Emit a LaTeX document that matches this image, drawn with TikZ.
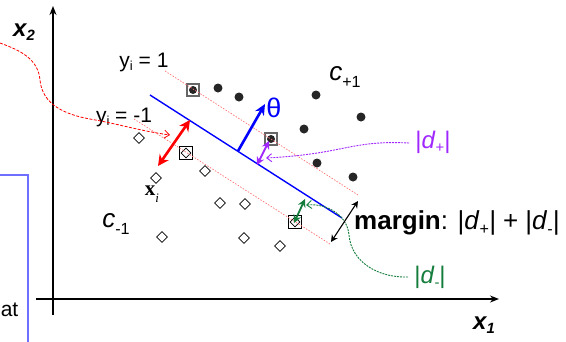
\documentclass[tikz,border=0pt]{standalone}
\usepackage{fontspec}
\setmainfont{Liberation Sans}
\newfontfamily\seriffont{Liberation Serif}
\usetikzlibrary{arrows.meta,shapes.geometric}
\definecolor{pblue}{RGB}{0,0,255}
\definecolor{boxblue}{RGB}{110,110,255}
\definecolor{ppurple}{RGB}{160,40,255}
\definecolor{pgreen}{RGB}{20,125,60}
\definecolor{pred}{RGB}{255,0,0}
\newcommand{\lsub}[1]{\raisebox{-0.35ex}{\scalebox{0.62}{#1}}}
\newcommand{\fsz}[1]{\fontsize{#1}{#1}\selectfont}
\begin{document}
\begin{tikzpicture}[x=1pt,y=-1pt,
  dot/.style={circle,fill=black!85,inner sep=0,minimum size=9pt},
  dia/.style={diamond,draw,fill=white,inner sep=0,minimum size=11pt,line width=0.8pt},
  svpos/.style={rectangle,draw=black!60,line width=1.6pt,fill=white,minimum size=12pt,inner sep=0},
  svneg/.style={rectangle,draw=black,line width=1pt,fill=white,minimum size=13pt,inner sep=0},
  axis/.style={line width=1.4pt,-{Stealth[length=9pt,width=7pt]}},
  marginline/.style={red!55,line width=0.7pt,dash pattern=on 1.5pt off 1.5pt},
  lbl/.style={inner sep=0,font=\fsz{21}},
  dbl/.style={{Stealth[length=#1,width=#1]}-{Stealth[length=#1,width=#1]}},
  barb/.style={-{Straight Barb[length=5pt,width=8pt]}}
]
\useasboundingbox (0,0) rectangle (566,341);

% left blue box fragment
\draw[boxblue,line width=1.4pt] (0,175) -- (28,175) -- (28,345);
\node[lbl,font=\fsz{21},anchor=base east] (at) at (18.5,316) {at};

% axes
\coordinate (yb) at (53,315); \coordinate (yt) at (53,6);
\coordinate (xl) at (36,299); \coordinate (xr) at (499,299);
\draw[axis] (yb) -- (yt);
\draw[axis] (xl) -- (xr);
\node[inner sep=0,font=\fsz{24}\bfseries\itshape] (x2) at (24,32) {x\lsub{2}};
\node[inner sep=0,font=\fsz{24}\bfseries\itshape] (x1) at (484,325) {x\lsub{1}};

% class +1 points
\foreach \p [count=\i] in {(218,88),(239,97),(316,95),(361,117),(304,129),(317,163),(353,177)}
  \node[dot] (p\i) at \p {};
% class -1 points
\foreach \p [count=\i] in {(139,138),(156,178),(162,237),(205,171),(220,203),(245,204),(244,238),(280,246)}
  \node[dia] (n\i) at \p {};
% support vectors
\node[svpos] (sp1) at (193,90) {}; \node[dot,minimum size=8pt] at (sp1) {};
\node[svpos] (sp2) at (271,139) {}; \node[dot,minimum size=8pt] at (sp2) {};
\node[svneg] (sn1) at (186,153) {}; \node[dia,minimum size=10pt] at (sn1) {};
\node[svneg] (sn2) at (295,222) {}; \node[dia,minimum size=10pt] at (sn2) {};

% margin lines and hyperplane
\coordinate (m1a) at (165,71); \coordinate (m1b) at (358,195);
\coordinate (m2a) at (134,119); \coordinate (m2b) at (330,244);
\coordinate (ha) at (150,95); \coordinate (hb) at (342,218);
\draw[marginline] (m1a) -- (m1b);
\draw[marginline] (m2a) -- (m2b);
\draw[pblue,line width=1.4pt] (ha) -- (hb);

% labels
\node[lbl] (ypos) at (144,62) {y\lsub{i} = 1};
\node[lbl] (yneg) at (124,117) {y\lsub{i} = -1};
\node[lbl,font=\fsz{26}] (cp) at (345,77) {\textit{c}\raisebox{-0.5ex}{\scalebox{0.62}{+1}}};
\node[lbl,font=\fsz{26}] (cn) at (116,224) {\textit{c}\raisebox{-0.5ex}{\scalebox{0.62}{-1}}};
\node[lbl,font=\fsz{21}] (xi) at (152,194) {{\seriffont\bfseries x}\raisebox{-0.6ex}{\scalebox{0.62}{\seriffont\itshape i}}};

% red curve and red double arrow
\coordinate (rc0) at (0,43); \coordinate (rc1) at (170,135);
\draw[pred,line width=0.8pt,dash pattern=on 3pt off 1.5pt,barb]
  (rc0) to[out=-20,in=95] (40,80) to[out=-85,in=170] (90,119) to[out=-10,in=172] (rc1);
\coordinate (ra) at (190,120); \coordinate (rb) at (158,166);
\draw[pred,line width=2.6pt,dbl=11pt] (ra) -- (rb);

% theta
\coordinate (ta) at (238,151); \coordinate (tb) at (265,104);
\draw[pblue,line width=2.6pt,-{Stealth[length=11pt,width=10pt]}] (ta) -- (tb);
\node[lbl,font=\fsz{27},text=pblue] (theta) at (274,108) {θ};

% purple
\coordinate (pa) at (269,141); \coordinate (pb) at (257,165);
\draw[ppurple,line width=1.8pt,dbl=8pt] (pa) -- (pb);
\node[lbl,font=\fsz{24},text=ppurple] (dp) at (433,142) {|\textit{d}\lsub{+}|};
\draw[ppurple,line width=0.9pt,dash pattern=on 2pt off 1pt,barb]
  (dp.west) ++(-6,1) .. controls (350,140) and (345,154) .. (266,158);

% green
\coordinate (ga) at (305,199); \coordinate (gb) at (294,223);
\draw[pgreen,line width=1.8pt,dbl=8pt] (ga) -- (gb);
\node[lbl,font=\fsz{24},text=pgreen] (dm) at (430,277) {|\textit{d}\lsub{-}|};
\draw[pgreen,line width=0.9pt,dash pattern=on 2pt off 1pt,barb]
  (dm.west) ++(-6,0) to[out=182,in=-85] (349,235) to[out=95,in=5] (306,205);

% margin
\coordinate (ma) at (358,201); \coordinate (mb) at (331,242);
\draw[black,line width=1.1pt,dbl=7pt] (ma) -- (mb);
\node[lbl,font=\fsz{26},anchor=west] (mg) at (354,223) {\textbf{margin}: |\textit{d}\lsub{+}\textit{|} + |\textit{d}\lsub{-}\textit{|}};
\end{tikzpicture}
\end{document}
